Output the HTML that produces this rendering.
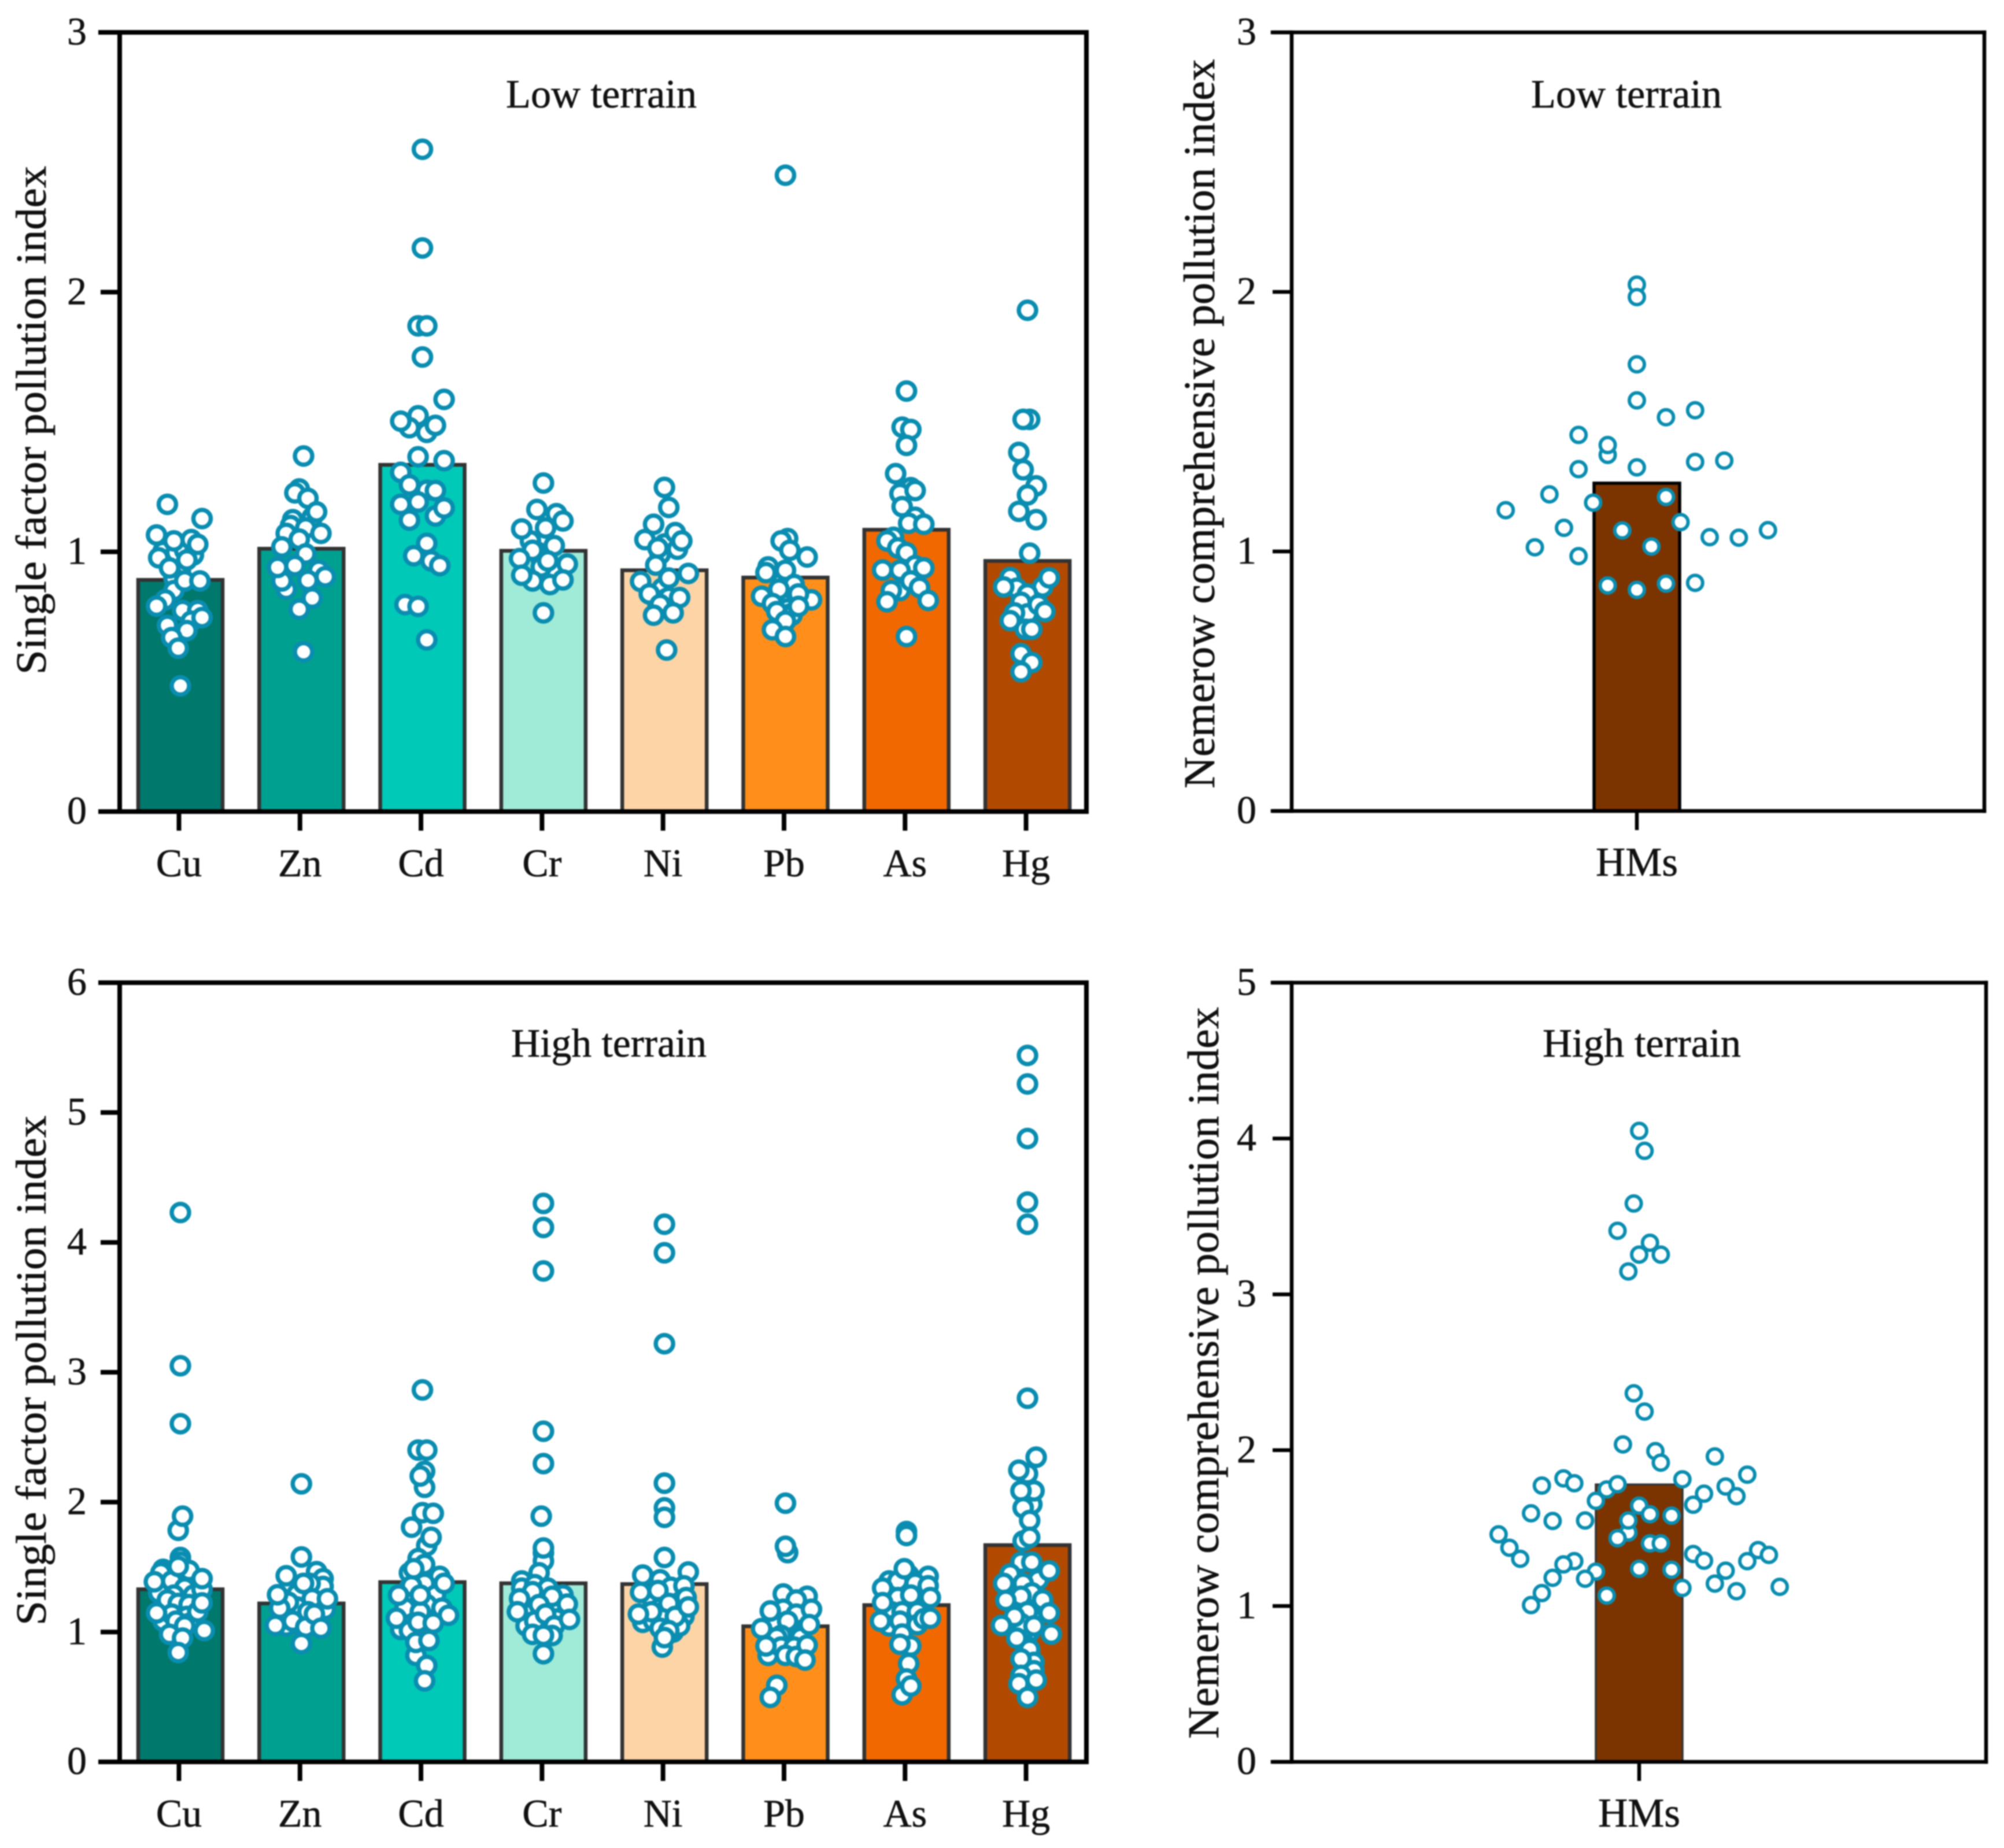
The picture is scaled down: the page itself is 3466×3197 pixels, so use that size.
<!DOCTYPE html>
<html>
<head>
<meta charset="utf-8">
<title>Pollution index by terrain</title>
<style>
html,body{margin:0;padding:0;background:#fff;}
svg{display:block;filter:blur(1px);}
text{font-family:"Liberation Serif",serif;fill:#111;stroke:#111;stroke-width:0.6px;}
</style>
</head>
<body>
<svg id="chart" xmlns="http://www.w3.org/2000/svg" width="3466" height="3197" viewBox="0 0 3466 3197"></svg>
<script>
const metals = ['Cu','Zn','Cd','Cr','Ni','Pb','As','Hg'];
const metalColors = ['#00786c','#00a091','#00c9b8','#a0ead8','#fdd4a6','#ff8f1a','#f26800','#b14a00'];
const compositeLabel = ['HMs'];

const lowMeans = [0.892,1.012,1.335,1.004,0.929,0.901,1.085,0.965];
const highMeans = [1.329,1.220,1.384,1.375,1.369,1.044,1.207,1.669];
const lowCompositeMean = [1.263];
const highCompositeMean = [1.78];

const lowTicks = [0,1,2,3];
const highTicks = [0,1,2,3,4,5,6];
const lowCompositeTicks = [0,1,2,3];
const highCompositeTicks = [0,1,2,3,4,5];

/* Low terrain: values and swarm slots (integer beeswarm column of each point) */
const lowCu = [0.96,0.93,0.90,1.183,1.128,1.001,0.997,1.006,0.988,0.969,1.042,1.065,1.047,1.029,0.977,0.938,0.851,0.815,0.888,0.888,0.791,0.774,0.774,0.733,0.747,0.717,0.697,0.670,0.629,0.484];
const lowCuSlots = [-2,0,-3,-6,10,-8,-2,2,6,3,-3,-11,5,8,-10,-5,-3,-7,2,9,-11,1,8,5,10,-6,3,-4,-1,0];
const lowZn = [1.369,1.242,1.124,1.101,1.133,1.227,1.206,1.154,1.092,1.071,1.071,1.049,1.019,0.992,0.929,0.856,0.890,0.888,0.940,0.947,0.904,0.822,0.779,0.615];
const lowZnSlots = [1,-1,-4,-5,5,-3,3,7,2,-7,9,-1,-9,2,8,-7,3,-9,-11,-3,11,5,-1,1];
const lowCd = [2.55,2.17,1.87,1.87,1.75,1.587,1.524,1.478,1.460,1.503,1.487,1.366,1.351,1.306,1.258,1.237,1.236,1.183,1.192,1.138,1.169,1.122,1.033,0.985,0.965,0.947,0.797,0.790,0.661];
const lowCdSlots = [0,0,-2,2,0,10,-2,-6,2,-10,6,-2,10,-10,-6,2,6,-10,-2,6,10,-6,2,-4,4,8,-8,-2,2];
const lowCr = [1.00,0.97,0.93,0.90,0.88,1.265,1.147,1.163,1.119,1.042,1.006,0.924,0.942,0.888,0.874,1.088,1.092,1.024,0.974,0.965,0.953,0.910,0.892,0.765];
const lowCrSlots = [-3,-1,2,0,3,0,6,-3,9,-6,-5,6,-1,-5,3,-10,1,5,-11,2,11,-10,9,0];
const lowNi = [1.03,0.99,0.86,0.82,0.80,1.248,1.171,1.106,1.074,1.010,1.042,1.047,1.015,0.824,0.949,0.917,0.899,0.886,0.838,0.797,0.824,0.756,0.765,0.622];
const lowNiSlots = [0,-2,-1,1,-3,0,2,-5,5,6,8,-9,-3,2,-4,11,2,-11,-7,-2,7,-5,4,1];
const lowPb = [0.88,0.84,0.80,0.78,0.76,0.72,2.45,1.051,1.042,1.006,0.980,0.942,0.929,0.920,0.874,0.856,0.829,0.815,0.801,0.838,0.770,0.756,0.733,0.790,0.700,0.674];
const lowPbSlots = [-2,2,-1,1,2,-3,0,1,-2,2,10,-8,0,-9,4,-3,-11,12,-6,6,-4,3,0,6,-6,0];
const lowAs = [1.619,1.480,1.471,1.410,1.301,1.247,1.224,1.236,1.174,1.133,1.110,1.106,1.056,1.042,1.015,0.997,0.851,0.947,0.930,0.929,0.938,0.888,0.863,0.851,0.808,0.813,0.674];
const lowAsSlots = [0,-2,2,0,-5,2,-3,4,-2,4,1,8,-6,-9,-4,0,-3,4,-11,-3,8,2,6,-7,-9,10,0];
const lowHg = [1.93,1.510,1.510,1.383,1.316,1.254,1.219,1.156,1.124,0.995,0.901,0.860,0.865,0.865,0.900,0.838,0.806,0.761,0.797,0.765,0.735,0.770,0.702,0.702,0.608,0.574,0.538];
const lowHgSlots = [0,1,-2,-4,-2,4,0,-4,4,1,-8,-5,7,-11,10,0,-3,0,5,-6,-8,8,-1,2,-3,2,-3];
const lowCompositeValues = [2.028,1.980,1.721,1.582,1.517,1.544,1.449,1.372,1.410,1.317,1.324,1.345,1.350,1.220,1.210,1.188,1.159,1.091,1.081,1.113,1.055,1.053,1.082,1.016,1.019,0.982,0.869,0.852,0.876,0.879];
const lowCompositeSlots = [0,0,0,0,2,4,-4,-2,-2,-4,0,4,6,-6,2,-3,-9,-5,-1,3,5,7,9,-7,1,-4,-2,0,2,4];

/* High terrain */
const highCu = [1.24,1.20,1.16,1.12,1.08,1.04,1.18,1.10,1.06,1.30,1.35,4.23,3.05,2.604,1.783,1.892,1.574,1.538,1.483,1.456,1.474,1.393,1.338,1.284,1.284,1.329,1.302,1.247,1.220,1.211,1.084,1.138,1.120,1.066,1.084,0.982,1.047,1.156,1.224,1.411,1.387,1.505,1.147,1.011,0.953,0.842];
const highCuSlots = [1,3,-2,1,-1,1,6,6,-5,-1,3,0,0,0,-1,1,0,0,-8,-9,4,-4,2,-3,6,10,-10,-6,-1,4,-8,-4,3,4,-2,-5,2,8,10,10,-12,-1,-11,11,1,-1];
const highZn = [1.30,1.26,1.22,1.18,1.14,1.10,1.06,1.24,1.16,1.08,2.141,1.465,1.411,1.351,1.374,1.293,1.256,1.175,1.193,1.156,1.047,1.084,1.038,1.374,1.229,1.138,1.184,1.578,1.433,1.287,1.256,1.051,1.029,0.911];
const highZnSlots = [0,2,-1,1,-1,1,-1,-4,-3,3,0,7,10,10,4,-2,5,11,-2,3,-7,-4,2,1,-6,6,-10,0,-7,-11,12,-12,9,0];
const highCd = [1.44,1.40,1.36,1.32,1.28,1.24,1.20,1.16,1.34,1.26,1.38,2.864,2.401,2.401,2.237,2.114,2.201,1.919,1.914,1.807,1.665,1.729,1.565,1.520,1.456,1.429,1.374,1.356,1.284,1.211,1.184,1.184,1.156,1.020,1.011,1.075,1.487,1.374,1.284,1.284,1.129,1.106,1.069,0.820,0.920,0.935,0.742,0.624];
const highCdSlots = [0,-3,3,0,3,3,-3,-1,-6,-6,6,0,-2,2,1,1,-1,0,5,-5,2,4,-2,1,-6,8,1,-5,6,2,-8,9,-1,-10,-6,-2,-4,10,-11,-1,12,-12,5,-3,-3,3,2,1];
const highCr = [1.24,1.20,1.16,1.12,1.08,1.04,1.00,1.18,1.10,1.02,1.14,1.06,4.30,4.115,3.78,2.546,2.297,1.892,1.61,1.547,1.647,1.456,1.393,1.338,1.365,1.338,1.284,1.275,1.311,1.256,1.211,1.047,1.084,1.138,1.047,0.982,0.973,1.215,1.156,1.097,0.975,0.833];
const highCrSlots = [-3,0,3,-1,2,-2,1,6,6,3,-6,-1,0,0,0,0,0,-1,0,0,0,-2,-10,-10,-4,2,9,4,-5,-11,-2,-8,-4,1,5,-5,4,11,-12,12,0,0];
const highNi = [1.22,1.18,1.14,1.10,1.06,1.02,1.20,1.16,1.12,1.08,1.04,1.00,1.14,1.10,4.14,3.92,3.22,2.146,2.146,1.956,1.883,1.574,1.438,1.438,1.462,1.402,1.265,1.344,1.356,1.320,1.075,1.265,1.120,1.047,1.184,1.220,1.084,1.102,1.120,1.029,1.011,1.156,1.305,1.138,1.193,0.884,0.957];
const highNiSlots = [-3,0,3,6,3,0,5,-1,-4,-2,1,4,2,-5,0,0,0,0,0,0,0,0,-10,-10,11,-2,-6,3,9,-3,-10,10,9,7,-2,2,-5,-1,5,-2,2,-6,-11,-12,11,-1,0];
const highPb = [1.14,1.10,1.06,1.02,0.98,0.94,1.12,1.08,1.04,1.00,0.96,0.92,1.992,1.611,1.660,1.293,1.275,1.247,1.175,1.138,1.084,1.084,0.957,0.975,0.957,0.820,0.884,0.884,0.820,0.811,1.162,1.175,1.057,1.026,0.893,0.899,0.784,0.590,0.497];
const highPbSlots = [-3,1,4,7,3,-1,4,-1,-3,2,6,0,0,1,0,-1,10,5,-1,5,-5,1,7,-2,-4,-8,-2,4,0,5,-7,12,11,-11,-9,10,9,-4,-7];
const highAs = [1.44,1.40,1.36,1.32,1.28,1.24,1.20,1.16,1.12,1.38,1.30,1.22,1.14,1.774,1.743,1.393,1.429,1.374,1.393,1.356,1.265,1.284,1.156,1.156,1.156,1.047,1.084,1.057,1.102,1.487,1.338,1.226,1.265,1.084,1.106,0.984,0.893,0.906,0.757,0.639,0.517,0.584];
const highAsSlots = [1,-2,1,-1,1,5,-1,2,0,5,6,-2,1,0,0,-8,10,4,-4,10,-4,2,-7,-2,5,-8,-3,5,8,-1,-11,-11,11,-12,11,-2,2,-3,1,0,-2,2];
const highHg = [1.36,1.30,1.24,1.18,1.12,1.06,1.00,0.90,0.84,5.44,5.22,4.80,4.31,4.14,2.80,2.219,2.246,2.346,1.983,2.087,2.087,1.956,1.859,1.701,1.729,1.538,1.447,1.402,1.374,1.302,1.275,1.247,1.156,1.066,1.047,1.538,1.471,1.374,1.244,1.147,1.120,1.051,0.984,0.866,0.766,0.702,0.793,0.666,0.953,0.630,0.602,0.497];
const highHgSlots = [-1,0,1,-2,2,-1,1,-1,1,0,0,0,0,0,0,0,-4,4,2,3,-3,-2,1,-2,1,-3,-8,5,-2,2,-3,7,0,-3,3,2,10,-11,-10,10,-6,-12,11,1,3,3,-3,-3,-5,4,-4,0];
const highCompositeValues = [4.049,3.921,3.583,3.408,3.331,3.255,3.255,3.147,2.365,2.248,2.037,1.994,1.920,1.960,1.843,1.819,1.788,1.773,1.748,1.782,1.813,1.767,1.721,1.705,1.675,1.650,1.644,1.589,1.580,1.595,1.546,1.549,1.472,1.549,1.460,1.435,1.402,1.402,1.374,1.303,1.334,1.359,1.328,1.291,1.288,1.267,1.288,1.227,1.239,1.233,1.221,1.181,1.175,1.144,1.083,1.116,1.095,1.123,1.067,1.006];
const highCompositeSlots = [0,0.5,-0.5,-2,1,0,2,-1,-0.5,0.5,-1.5,1.5,2,7,10,-7,-6,-9,-3,-2,4,8,6,9,-4,5,0,1,3,-10,-8,-5,-1,-1,-13,-2,1,2,-12,-11,5,11,12,6,-6,-7,10,8,0,3,-4,-8,-5,7,-9,4,9,13,-3,-10];

const lowSeries = [lowCu,lowZn,lowCd,lowCr,lowNi,lowPb,lowAs,lowHg];
const lowSlots = [lowCuSlots,lowZnSlots,lowCdSlots,lowCrSlots,lowNiSlots,lowPbSlots,lowAsSlots,lowHgSlots];
const highSeries = [highCu,highZn,highCd,highCr,highNi,highPb,highAs,highHg];
const highSlots = [highCuSlots,highZnSlots,highCdSlots,highCrSlots,highNiSlots,highPbSlots,highAsSlots,highHgSlots];

const NS = 'http://www.w3.org/2000/svg';
const root = document.getElementById('chart');

function make(parent, tag, attrs, text) {
  const el = document.createElementNS(NS, tag);
  for (const k in attrs) el.setAttribute(k, attrs[k]);
  if (text !== undefined) el.textContent = text;
  parent.appendChild(el);
  return el;
}

function drawPanel(p) {
  const g = make(root, 'g', {});
  
  

  const yScale = v => p.bottom - (v / p.yMax) * (p.bottom - p.top);
  const xScale = i => p.firstCenter + p.step * i;

  // bars
  p.cats.forEach((c, i) => {
    const h = p.bottom - yScale(p.means[i]);
    const bar = make(g, 'rect', {
      x: xScale(i) - p.barWidth / 2, y: yScale(p.means[i]),
      width: p.barWidth, height: h,
      fill: p.colors[i], stroke: p.barStroke, 'stroke-width': p.barStrokeWidth
    });
    
    
  });

  // axis frame
  const frame = [
    [p.left - p.tickLen, p.top, p.right, p.top, 'axis-top-line'],
    [p.left - p.tickLen, p.bottom, p.right, p.bottom, 'x-axis-line'],
    [p.left, p.top, p.left, p.bottom, 'y-axis-line'],
    [p.right, p.top, p.right, p.bottom, 'axis-right-line']
  ];
  frame.forEach(f => {
    const ln = make(g, 'line', {
      x1: f[0], y1: f[1], x2: f[2], y2: f[3],
      stroke: '#000', 'stroke-width': p.axisWidth, 'stroke-linecap': 'square'
    });
    
    
  });

  // y ticks
  p.ticks.forEach(t => {
    const y = yScale(t);
    const tk = make(g, 'line', {
      x1: p.left - p.tickLen, y1: y, x2: p.left, y2: y,
      stroke: '#000', 'stroke-width': p.axisWidth
    });
    
    
    const lb = make(g, 'text', {
      x: p.yLabelX, y: y + 21, 'text-anchor': 'end', 'font-size': 68
    }, String(t));
    
    
  });

  // x ticks and labels
  p.cats.forEach((c, i) => {
    const x = xScale(i) - p.tickShift;
    const tk = make(g, 'line', {
      x1: x, y1: p.bottom, x2: x, y2: p.bottom + 33,
      stroke: '#000', 'stroke-width': p.axisWidth
    });
    
    
    const lb = make(g, 'text', {
      x: x, y: p.bottom + 112, 'text-anchor': 'middle', 'font-size': p.xLabelSize
    }, c);
    
    
  });

  // points
  p.series.forEach((vals, i) => {
    const slots = p.slots[i];
    vals.forEach((v, j) => {
      const pt = make(g, 'circle', {
        cx: xScale(i) + slots[j] * p.slotWidth, cy: yScale(v), r: p.pointR,
        fill: '#fff', stroke: '#0a8db0', 'stroke-width': p.pointStroke
      });
      
      
    });
  });

  // panel title
  const title = make(g, 'text', {
    x: p.titleX, y: p.titleY, 'font-size': 70,
    textLength: p.titleLen, lengthAdjust: 'spacingAndGlyphs'
  }, p.title);
  
  

  // y-axis title
  const yt = make(g, 'text', {
    transform: 'translate(' + p.yTitleX + ',' + p.yTitleCenter + ') rotate(-90)',
    'text-anchor': 'middle', 'font-size': p.yTitleSize,
    textLength: p.yTitleLen, lengthAdjust: 'spacingAndGlyphs'
  }, p.yTitle);
  
  
}

drawPanel({
  name: 'low-terrain-single-factor-panel',
  cats: metals, colors: metalColors, means: lowMeans, series: lowSeries, slots: lowSlots,
  ticks: lowTicks, yMax: 3, left: 207, right: 1879, top: 56, bottom: 1404,
  firstCenter: 312, step: 209.3, barWidth: 146, barStroke: '#333', barStrokeWidth: 6.5,
  tickShift: 2.5, tickLen: 33, axisWidth: 8, yLabelX: 150, xLabelSize: 68,
  slotWidth: 3.75, pointR: 15, pointStroke: 7.5,
  title: 'Low terrain', titleX: 875, titleY: 186, titleLen: 330,
  yTitle: 'Single factor pollution index', yTitleX: 79, yTitleCenter: 727, yTitleSize: 74, yTitleLen: 880
});
drawPanel({
  name: 'high-terrain-single-factor-panel',
  cats: metals, colors: metalColors, means: highMeans, series: highSeries, slots: highSlots,
  ticks: highTicks, yMax: 6, left: 207, right: 1879, top: 1700, bottom: 3048,
  firstCenter: 312, step: 209.3, barWidth: 146, barStroke: '#333', barStrokeWidth: 6.5,
  tickShift: 2.5, tickLen: 33, axisWidth: 8, yLabelX: 150, xLabelSize: 68,
  slotWidth: 3.75, pointR: 15, pointStroke: 7.5,
  title: 'High terrain', titleX: 884, titleY: 1828, titleLen: 338,
  yTitle: 'Single factor pollution index', yTitleX: 79, yTitleCenter: 2371, yTitleSize: 74, yTitleLen: 882
});
drawPanel({
  name: 'low-terrain-nemerow-panel',
  cats: compositeLabel, colors: ['#7b3400'], means: lowCompositeMean,
  series: [lowCompositeValues], slots: [lowCompositeSlots],
  ticks: lowCompositeTicks, yMax: 3, left: 2234, right: 3432, top: 56, bottom: 1403,
  firstCenter: 2831, step: 0, barWidth: 148, barStroke: '#000', barStrokeWidth: 5.5,
  tickShift: 0, tickLen: 33, axisWidth: 6.5, yLabelX: 2173, xLabelSize: 71,
  slotWidth: 25.2, pointR: 13, pointStroke: 6,
  title: 'Low terrain', titleX: 2648, titleY: 186, titleLen: 330,
  yTitle: 'Nemerow comprehensive pollution index', yTitleX: 2100, yTitleCenter: 733, yTitleSize: 76, yTitleLen: 1262
});
drawPanel({
  name: 'high-terrain-nemerow-panel',
  cats: compositeLabel, colors: ['#7b3400'], means: highCompositeMean,
  series: [highCompositeValues], slots: [highCompositeSlots],
  ticks: highCompositeTicks, yMax: 5, left: 2234, right: 3435, top: 1700, bottom: 3048,
  firstCenter: 2835, step: 0, barWidth: 150, barStroke: '#333', barStrokeWidth: 3.5,
  tickShift: 0, tickLen: 33, axisWidth: 6.5, yLabelX: 2173, xLabelSize: 71,
  slotWidth: 18.7, pointR: 13, pointStroke: 6,
  title: 'High terrain', titleX: 2668, titleY: 1828, titleLen: 343,
  yTitle: 'Nemerow comprehensive pollution index', yTitleX: 2107, yTitleCenter: 2375, yTitleSize: 76, yTitleLen: 1266
});
</script>
</body>
</html>
